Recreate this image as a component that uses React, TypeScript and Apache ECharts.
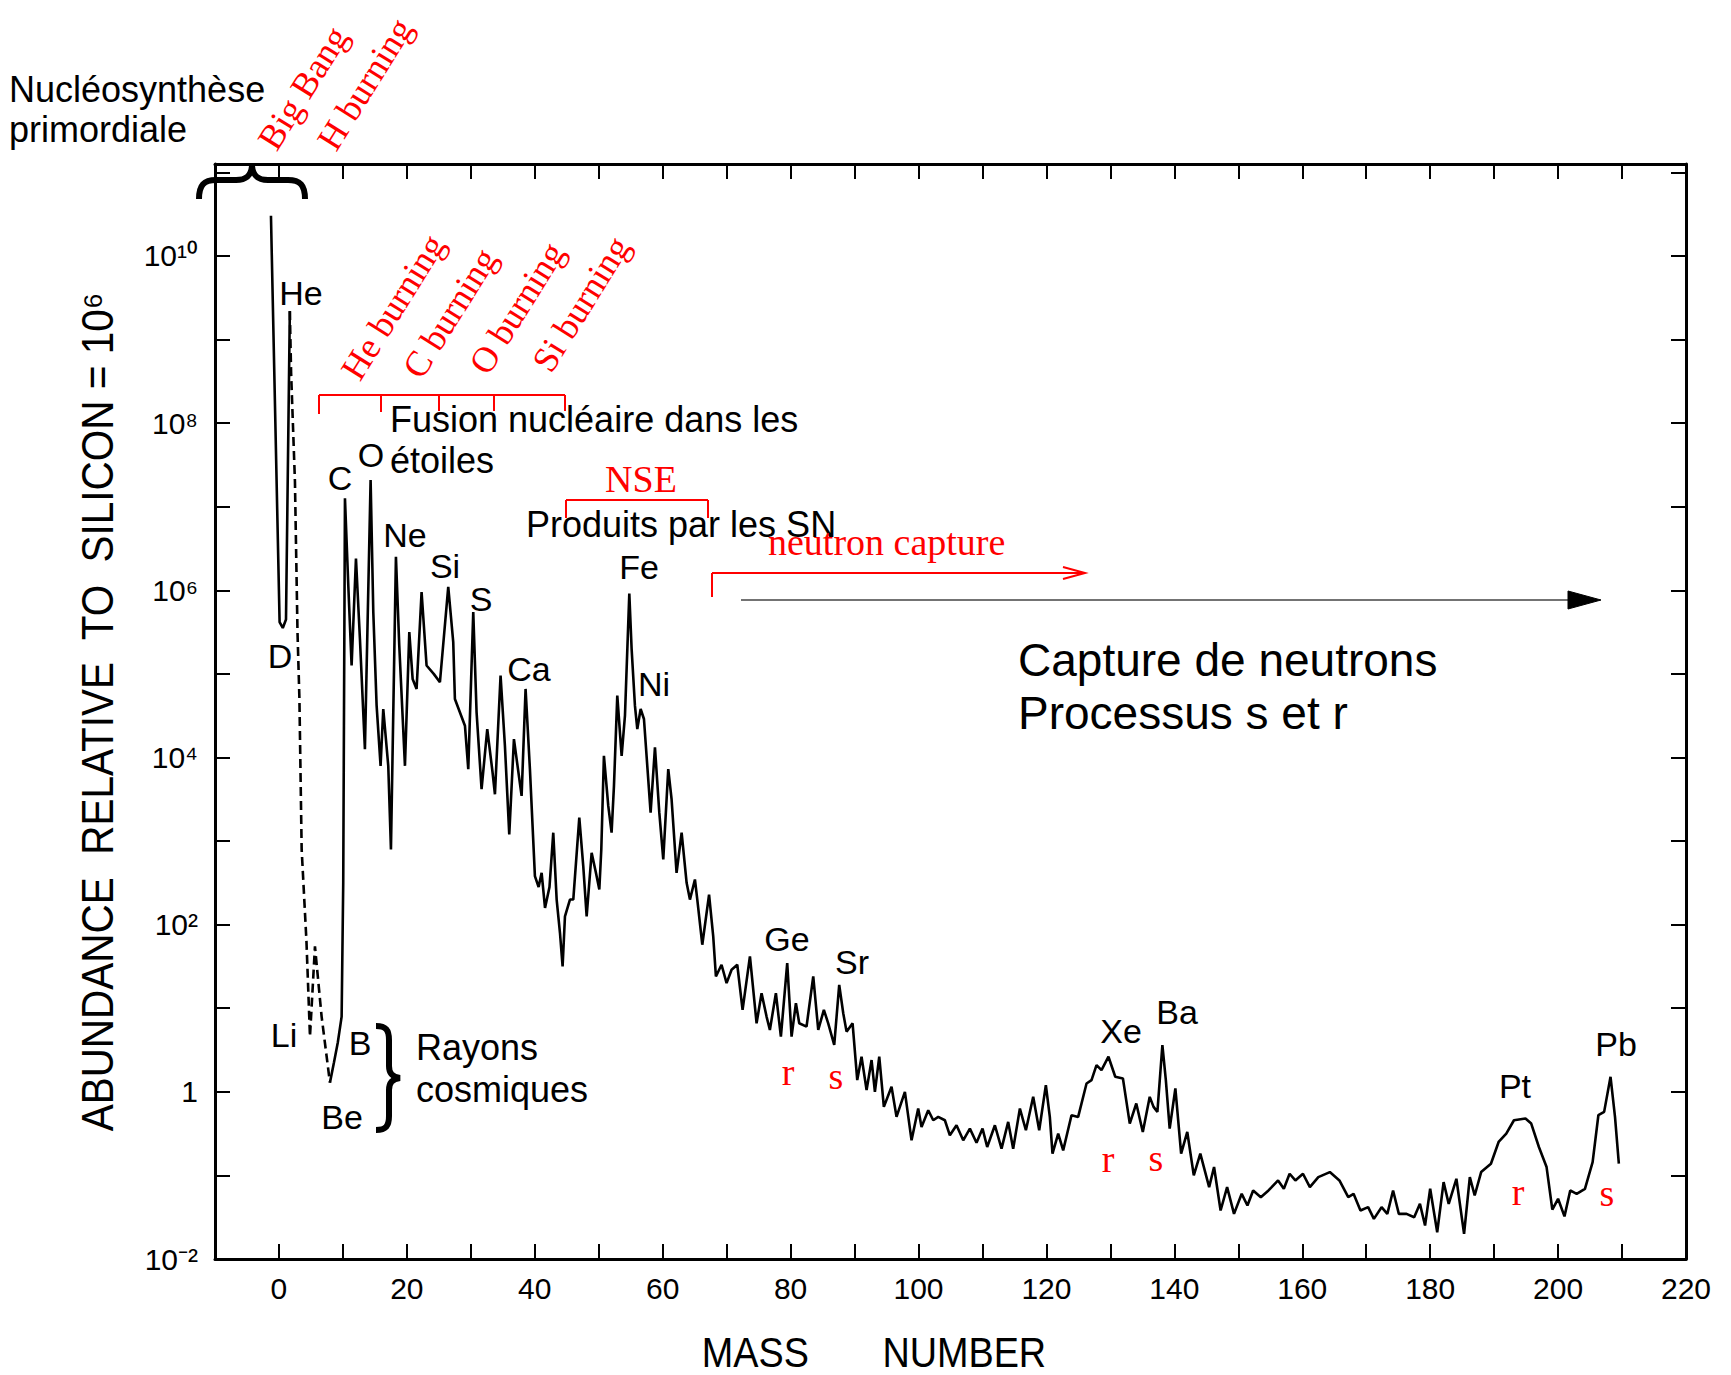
import React, { useEffect, useRef } from "react";
import * as echarts from "echarts";

// ---------- tick labels ----------
const xTickValues = [0, 20, 40, 60, 80, 100, 120, 140, 160, 180, 200, 220];
const yTickExponents = [-2, 0, 2, 4, 6, 8, 10];
const yTickLabels = ["10⁻²", "1", "10²", "10⁴", "10⁶", "10⁸", "10¹⁰"];

// ---------- data (mass number, log10 abundance relative to Si = 10^6) ----------
// H – D – He (solid)
const primordialMass = [-1.25, 0.1, 0.6, 1.1, 1.7];
const primordialLogAbund = [10.48, 5.62, 5.55, 5.65, 9.34];

// He → Li → Be (dashed)
const dashedMass = [1.7, 1.9, 2.5, 2.9, 3.2, 3.55, 4.3, 4.85, 5.63, 6.67, 7.97];
const dashedLogAbund = [9.34, 8.6, 7.3, 5.5, 4.7, 2.9, 1.8, 0.66, 1.74, 0.9, 0.11];

// Be, B → Ca
const lightMass = [
  7.97, 8.6, 9.2, 9.8, 10.05, 10.32, 10.84, 11.36, 12.04, 12.66, 13.44, 14.33, 14.75, 15.27,
  15.89, 16.31, 17.09, 17.51, 18.29, 18.81, 19.7, 20.38, 20.9, 21.52, 22.3, 23.08, 24.2, 25.17,
  26.47, 27.25, 27.51, 29.08, 29.6, 30.38, 30.9, 31.68, 32.57, 33.4, 33.77, 34.65, 35.33, 36.01,
  36.74, 37.94, 38.56, 39.24, 40.02,
];
const lightLogAbund = [
  0.11, 0.35, 0.59, 0.9, 2.5, 7.1, 6.06, 5.1, 6.38, 5.42, 4.1, 7.32, 5.74, 4.62,
  3.9, 4.58, 3.9, 2.9, 6.4, 5.34, 3.9, 5.5, 4.94, 4.82, 5.98, 5.1, 5.0, 4.9,
  6.04, 5.38, 4.7, 4.38, 3.86, 5.74, 4.54, 3.62, 4.34, 3.82, 3.56, 4.98, 4.14, 3.08,
  4.22, 3.54, 4.82, 3.86, 2.58,
];

// Iron peak region
const ironMass = [
  40.6, 41.07, 41.6, 42.3, 42.89, 43.42, 43.94, 44.35, 44.72, 45.5, 46.02, 46.96, 47.58, 48.11,
  48.89, 49.56, 50.09, 50.4, 50.81, 51.49, 52.01, 52.38, 52.9, 53.58, 54.1, 54.78, 55.14, 55.66,
  56.03, 56.55, 57.07, 57.59, 58.11, 58.79, 59.47, 60.09, 60.87, 61.39, 62.17, 62.96, 63.74, 64.26,
  65.04, 65.41, 66.19, 67.25,
];
const ironLogAbund = [
  2.45, 2.62, 2.2, 2.45, 3.1, 2.3, 1.9, 1.5, 2.1, 2.3, 2.3, 3.28, 2.7, 2.1,
  2.86, 2.62, 2.42, 2.9, 4.02, 3.42, 3.1, 3.66, 4.74, 4.02, 4.5, 5.96, 5.3, 4.62,
  4.34, 4.58, 4.46, 3.9, 3.34, 4.12, 3.34, 2.78, 3.86, 3.5, 2.62, 3.1, 2.5, 2.3,
  2.54, 2.3, 1.76, 2.36,
];

// Ge, Sr … Xe
const midMass = [
  67.9, 68.32, 69.2, 69.99, 70.77, 71.66, 72.49, 73.64, 74.68, 75.46, 76.24, 76.76, 77.7, 78.48,
  79.47, 80.15, 80.83, 81.35, 82.49, 83.54, 84.32, 85.2, 85.88, 86.82, 87.6, 88.23, 88.75, 89.69,
  90.42, 91.09, 91.88, 92.66, 93.18, 93.86, 94.58, 95.78, 96.56, 97.87, 98.91, 99.95, 100.47, 101.52,
  102.3, 103.08, 104.12, 104.9, 105.94, 106.99, 108.03, 109.07, 110.01, 110.74, 111.94, 112.98, 114.02, 114.8,
  115.85, 116.79, 117.93, 118.87, 119.91, 120.53, 120.95, 121.84, 122.62, 123.92, 124.96, 126.27, 127.05, 127.83,
  128.61, 129.7,
];
const midLogAbund = [
  1.86, 1.38, 1.52, 1.3, 1.46, 1.52, 0.98, 1.62, 0.82, 1.18, 0.9, 0.74, 1.18, 0.66,
  1.54, 0.66, 1.06, 0.82, 0.78, 1.38, 0.74, 0.98, 0.82, 0.56, 1.28, 0.94, 0.72, 0.82,
  0.14, 0.42, 0.02, 0.38, 0.0, 0.42, -0.18, 0.06, -0.3, 0.0, -0.58, -0.2, -0.42, -0.22,
  -0.34, -0.3, -0.34, -0.52, -0.4, -0.58, -0.44, -0.61, -0.44, -0.66, -0.4, -0.68, -0.36, -0.68,
  -0.2, -0.46, -0.06, -0.46, 0.08, -0.3, -0.74, -0.5, -0.7, -0.28, -0.3, 0.1, 0.14, 0.32,
  0.26, 0.42,
];

// Ba … Pt, Pb
const heavyMass = [
  130.76, 131.96, 133.03, 134.05, 135.07, 136.15, 136.75, 137.35, 138.13, 138.67, 139.27, 140.16, 141.06, 142.02,
  143.04, 144.06, 145.44, 146.21, 147.23, 148.25, 149.33, 150.53, 151.43, 152.32, 153.52, 154.72, 156.22, 157.12,
  158.02, 158.92, 160.11, 161.19, 162.51, 164.31, 165.81, 167.19, 168.02, 169.1, 170.3, 171.2, 172.4, 173.3,
  174.2, 175.1, 176.3, 177.5, 178.4, 179.2, 180.0, 181.1, 182.1, 182.9, 184.1, 185.3, 186.2, 186.96,
  187.97, 189.5, 190.7, 191.9, 193.1, 194.9, 195.8, 197.0, 198.2, 199.1, 200.0, 201.0, 201.9, 202.9,
  204.2, 205.4, 206.3, 207.2, 208.2, 208.9, 209.5,
];
const heavyLogAbund = [
  0.18, 0.16, -0.38, -0.14, -0.48, -0.06, -0.18, -0.24, 0.56, 0.14, -0.44, 0.04, -0.74, -0.48,
  -1.0, -0.74, -1.14, -0.9, -1.42, -1.14, -1.46, -1.22, -1.36, -1.18, -1.26, -1.18, -1.06, -1.16,
  -0.98, -1.06, -0.98, -1.14, -1.02, -0.96, -1.06, -1.26, -1.22, -1.42, -1.38, -1.52, -1.38, -1.46,
  -1.18, -1.46, -1.46, -1.5, -1.34, -1.6, -1.16, -1.68, -1.08, -1.34, -1.04, -1.7, -1.02, -1.24,
  -0.96, -0.86, -0.6, -0.5, -0.34, -0.32, -0.38, -0.66, -0.9, -1.41, -1.28, -1.49, -1.18, -1.22,
  -1.16, -0.84, -0.28, -0.24, 0.18, -0.3, -0.86,
];

// ---------- layout / style ----------
const W = 1731;
const H = 1375;
const SANS = "'Liberation Sans', Arial, Helvetica, sans-serif";
const SERIF = "'Liberation Serif', 'Times New Roman', serif";
const RED = "#ff0000";

function pairs(m: number[], l: number[]): number[][] {
  const n = Math.min(m.length, l.length);
  const out: number[][] = [];
  for (let i = 0; i < n; i++) out.push([m[i], l[i]]);
  return out;
}

type TOpts = { color?: string; family?: string; align?: string; rotation?: number; scaleX?: number };
function txt(text: string, x: number, y: number, size: number, o: TOpts = {}) {
  return {
    type: "text",
    x,
    y,
    rotation: o.rotation || 0,
    scaleX: o.scaleX || 1,
    z: 20,
    silent: true,
    style: {
      text,
      fill: o.color || "#000",
      fontSize: size,
      fontFamily: o.family || SANS,
      align: o.align || "center",
      verticalAlign: "middle",
      textAlign: o.align || "center",
      textVerticalAlign: "middle",
    },
  };
}
function seg(x1: number, y1: number, x2: number, y2: number, color: string, w: number) {
  return {
    type: "line",
    z: 15,
    silent: true,
    shape: { x1, y1, x2, y2 },
    style: { stroke: color, lineWidth: w },
  };
}

const BRACE_TOP =
  "M199,199 C199,185 204,180 216,180 L236,180 C246,180 251,176 252,166 C253,176 258,180 268,180 L288,180 C300,180 305,185 305,199";
const BRACE_RIGHT =
  "M376,1026 C386,1026 389,1030 389,1040 L389,1066 C389,1073 392,1077 400,1078 C392,1079 389,1083 389,1090 L389,1116 C389,1126 386,1130 376,1130";

export default function App() {
  const ref = useRef<HTMLDivElement>(null);

  useEffect(() => {
    const el = ref.current;
    if (!el) return;
    echarts.graphic.registerShape("braceTop", echarts.graphic.extendPath(BRACE_TOP, {}) as any);
    echarts.graphic.registerShape("braceRight", echarts.graphic.extendPath(BRACE_RIGHT, {}) as any);

    const chart = echarts.init(el, null, { renderer: "svg", width: W, height: H });

    const rot = (58 * Math.PI) / 180;
    const elementLabels = [
      ["He", 301, 293], ["D", 280, 656], ["Li", 284, 1035], ["B", 360, 1043], ["Be", 342, 1117],
      ["C", 340, 478], ["O", 371, 455], ["Ne", 405, 535], ["Si", 445, 566], ["S", 481, 599],
      ["Ca", 529, 669], ["Fe", 639, 567], ["Ni", 654, 684], ["Ge", 787, 939], ["Sr", 852, 962],
      ["Xe", 1121, 1031], ["Ba", 1177, 1012], ["Pt", 1515, 1086], ["Pb", 1616, 1044],
    ] as [string, number, number][];
    const rsLabels = [
      ["r", 788, 1072], ["s", 836, 1076], ["r", 1108, 1159], ["s", 1156, 1158], ["r", 1518, 1192], ["s", 1607, 1193],
    ] as [string, number, number][];

    const graphics: any[] = [
      // primordial nucleosynthesis
      txt("Nucléosynthèse", 9, 89, 36, { align: "left" }),
      txt("primordiale", 9, 129, 36, { align: "left" }),
      { type: "braceTop", x: 0, y: 0, z: 15, silent: true, style: { stroke: "#000", lineWidth: 6, fill: "none" } },
      txt("Big Bang", 303, 88, 36, { color: RED, family: SERIF, rotation: rot }),
      txt("H burning", 365, 84, 36, { color: RED, family: SERIF, rotation: rot }),
      // stellar burning
      txt("He burning", 393, 307, 36, { color: RED, family: SERIF, rotation: rot }),
      txt("C burning", 450, 313, 36, { color: RED, family: SERIF, rotation: rot }),
      txt("O burning", 517, 308, 36, { color: RED, family: SERIF, rotation: rot }),
      txt("Si burning", 581, 304, 36, { color: RED, family: SERIF, rotation: rot }),
      seg(319, 395, 565, 395, RED, 2),
      seg(319, 395, 319, 414, RED, 2),
      seg(381, 395, 381, 412, RED, 2),
      seg(439, 395, 439, 411, RED, 2),
      seg(494, 395, 494, 411, RED, 2),
      seg(565, 395, 565, 411, RED, 2),
      txt("Fusion nucléaire dans les", 390, 419, 36, { align: "left" }),
      txt("étoiles", 390, 460, 36, { align: "left" }),
      // NSE
      txt("NSE", 641, 479, 38, { color: RED, family: SERIF }),
      seg(566, 500, 708, 500, RED, 2),
      seg(566, 500, 566, 518, RED, 2),
      seg(708, 500, 708, 518, RED, 2),
      txt("Produits par les SN", 526, 524, 36, { align: "left" }),
      // neutron capture
      txt("neutron capture", 768, 542, 38, { color: RED, family: SERIF, align: "left" }),
      seg(712, 573, 1085, 573, RED, 2),
      seg(712, 573, 712, 597, RED, 2),
      {
        type: "polyline", z: 15, silent: true,
        shape: { points: [[1063, 567], [1085, 573], [1063, 579]] },
        style: { stroke: RED, lineWidth: 2, fill: "none" },
      },
      seg(741, 600, 1575, 600, "#444", 1.6),
      {
        type: "polygon", z: 15, silent: true,
        shape: { points: [[1568, 591], [1601, 600], [1568, 609]] },
        style: { fill: "#000", stroke: "#000", lineWidth: 1 },
      },
      txt("Capture de neutrons", 1018, 660, 46, { align: "left" }),
      txt("Processus s et r", 1018, 713, 46, { align: "left" }),
      // cosmic rays
      { type: "braceRight", x: 0, y: 0, z: 15, silent: true, style: { stroke: "#000", lineWidth: 6, fill: "none" } },
      txt("Rayons", 416, 1047, 36, { align: "left" }),
      txt("cosmiques", 416, 1089, 36, { align: "left" }),
      // axis titles
      txt("ABUNDANCE  RELATIVE  TO  SILICON = 10⁶", 98, 712, 44, { rotation: Math.PI / 2, scaleX: 0.92 }),
      txt("MASS       NUMBER", 874, 1352, 42, { scaleX: 0.9 }),
    ];
    elementLabels.forEach(([t, x, y]) => graphics.push(txt(t, x, y, 34)));
    rsLabels.forEach(([t, x, y]) => graphics.push(txt(t, x, y, 38, { color: RED, family: SERIF })));

    const axisLine = { show: true, onZero: false, lineStyle: { color: "#000", width: 3 } };
    const axisTick = { show: true, inside: true, length: 15, lineStyle: { color: "#000", width: 2 } };

    const yFormatter = (v: number) => {
      const r = Math.round(v);
      if (Math.abs(v - r) > 1e-6) return "";
      const i = yTickExponents.indexOf(r);
      return i >= 0 ? yTickLabels[i] : "";
    };
    const xFormatter = (v: number) => {
      const r = Math.round(v);
      return Math.abs(v - r) < 1e-6 && xTickValues.indexOf(r) >= 0 ? String(r) : "";
    };

    const lineStyle = { color: "#000", width: 2.6 };

    chart.setOption({
      animation: false,
      backgroundColor: "#fff",
      grid: { left: 215, top: 164, width: 1471, height: 1095, containLabel: false },
      xAxis: [
        {
          type: "value", position: "bottom", min: -10, max: 220, interval: 10,
          axisLine, axisTick, splitLine: { show: false },
          axisLabel: { show: true, margin: 14, fontSize: 30, fontFamily: SANS, color: "#000", formatter: xFormatter },
        },
        {
          type: "value", position: "top", min: -10, max: 220, interval: 10,
          axisLine, axisTick, splitLine: { show: false }, axisLabel: { show: false },
        },
      ],
      yAxis: [
        {
          type: "value", position: "left", min: -2, max: 11.1, interval: 1,
          axisLine, axisTick, splitLine: { show: false },
          axisLabel: { show: true, margin: 17, fontSize: 30, fontFamily: SANS, color: "#000", formatter: yFormatter },
        },
        {
          type: "value", position: "right", min: -2, max: 11.1, interval: 1,
          axisLine, axisTick, splitLine: { show: false }, axisLabel: { show: false },
        },
      ],
      series: [
        {
          name: "H–He", type: "line", xAxisIndex: 0, yAxisIndex: 0, silent: true,
          showSymbol: false, symbol: "none", lineStyle, data: pairs(primordialMass, primordialLogAbund), z: 3,
        },
        {
          name: "Li–Be", type: "line", xAxisIndex: 0, yAxisIndex: 0, silent: true,
          showSymbol: false, symbol: "none",
          lineStyle: { color: "#000", width: 2.6, type: [9, 5] },
          data: pairs(dashedMass, dashedLogAbund), z: 3,
        },
        {
          name: "Abundance", type: "line", xAxisIndex: 0, yAxisIndex: 0, silent: true,
          showSymbol: false, symbol: "none", lineStyle,
          data: [
            ...pairs(lightMass, lightLogAbund),
            ...pairs(ironMass, ironLogAbund),
            ...pairs(midMass, midLogAbund),
            ...pairs(heavyMass, heavyLogAbund),
          ],
          z: 3,
        },
      ],
      graphic: { elements: graphics },
    });

    return () => chart.dispose();
  }, []);

  return (
    <div
      ref={ref}
      style={{ position: "fixed", left: 0, top: 0, width: W, height: H, background: "#fff" }}
    />
  );
}
